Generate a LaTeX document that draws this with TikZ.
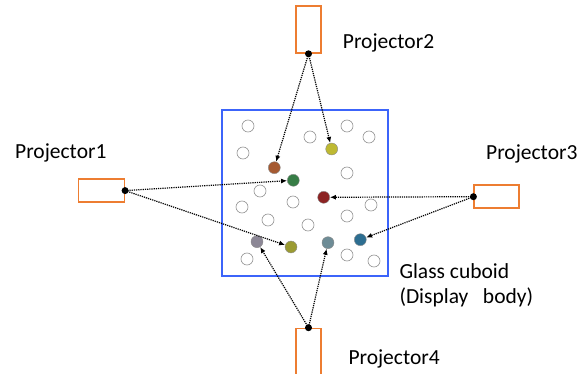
\documentclass[tikz,border=0pt]{standalone}
\usepackage{fontspec}
\setmainfont{Carlito}
\usetikzlibrary{arrows.meta}

\definecolor{projorange}{RGB}{237,125,49}
\definecolor{glassblue}{RGB}{60,100,250}
\definecolor{bbrown}{RGB}{165,90,50}
\definecolor{byellow}{RGB}{190,185,50}
\definecolor{bgreen}{RGB}{55,125,70}
\definecolor{bred}{RGB}{140,35,35}
\definecolor{bmauve}{RGB}{140,135,150}
\definecolor{bolive}{RGB}{155,155,50}
\definecolor{bslate}{RGB}{110,140,150}
\definecolor{bteal}{RGB}{45,110,145}

\tikzset{
  proj/.style={draw=projorange, line width=1.6pt, inner sep=0pt},
  glass/.style={draw=glassblue, line width=1.8pt, inner sep=0pt, minimum size=166pt},
  hole/.style={circle, draw=gray!85, fill=white, minimum size=12pt, inner sep=0pt, line width=0.6pt},
  bead/.style={circle, draw=black!45, minimum size=12pt, inner sep=0pt, line width=0.4pt},
  ray/.style={->, densely dotted, line width=1.2pt},
  lbl/.style={anchor=base west, font=\fontsize{21.5}{25}\selectfont, inner sep=0pt}
}

\begin{document}
\begin{tikzpicture}[x=1pt,y=-1pt,>={Latex[length=6pt,width=5pt]}]
\useasboundingbox (0,0) rectangle (587,374);

% Display body
\node[glass] (cuboid) at (305,193) {};

% Empty voxels
\foreach \X/\Y [count=\i] in {248/126,310/137,347/126,369/137,243/153,347/173,
    260/191,293/202,242/207,371/205,268/220,347/216,308/225,247/259,347/255,374/261}{
  \node[hole] (h\i) at (\X,\Y) {};
}

% Lit voxels
\node[bead, fill=bbrown]  (vbrown)  at (274.3,167.7) {};
\node[bead, fill=byellow] (vyellow) at (331.7,149) {};
\node[bead, fill=bgreen]  (vgreen)  at (293.3,180.3) {};
\node[bead, fill=bred]    (vred)    at (323.7,197.3) {};
\node[bead, fill=bmauve]  (vmauve)  at (257,241.7) {};
\node[bead, fill=bolive]  (volive)  at (291,247) {};
\node[bead, fill=bslate]  (vslate)  at (328,242.7) {};
\node[bead, fill=bteal]   (vteal)   at (360.3,239.7) {};

% Projectors
\node[proj, minimum width=46pt, minimum height=23pt] (p1) at (101.3,190.6) {};
\node[proj, minimum width=25pt, minimum height=47pt] (p2) at (308.5,29.5) {};
\node[proj, minimum width=45pt, minimum height=23pt] (p3) at (496.7,196.7) {};
\node[proj, minimum width=25pt, minimum height=47pt] (p4) at (308.5,352) {};

\coordinate (o1) at (p1.east);
\coordinate (o2) at (p2.south);
\coordinate (o3) at (p3.west);
\coordinate (o4) at (p4.north);

% Rays
\draw[ray] (o1) -- (vgreen);
\draw[ray] (o1) -- (volive);
\draw[ray] (o2) -- (vbrown);
\draw[ray] (o2) -- (vyellow);
\draw[ray] (o3) -- (vred);
\draw[ray] (o3) -- (vteal);
\draw[ray] (o4) -- (vmauve);
\draw[ray] (o4) -- (vslate);

\foreach \o in {o1,o2,o3,o4}
  \fill (\o) circle (3.5pt);

% Labels
\node[lbl] (l1) at (15,159) {Projector1};
\node[lbl] (l2) at (342.7,48.3) {Projector2};
\node[lbl] (l3) at (486,159.3) {Projector3};
\node[lbl] (l4) at (348.3,364.3) {Projector4};
\node[lbl] (g1) at (399.3,279) {Glass cuboid};
\node[lbl] (g2) at (399.3,304) {(Display~~~body)};
\end{tikzpicture}
\end{document}
